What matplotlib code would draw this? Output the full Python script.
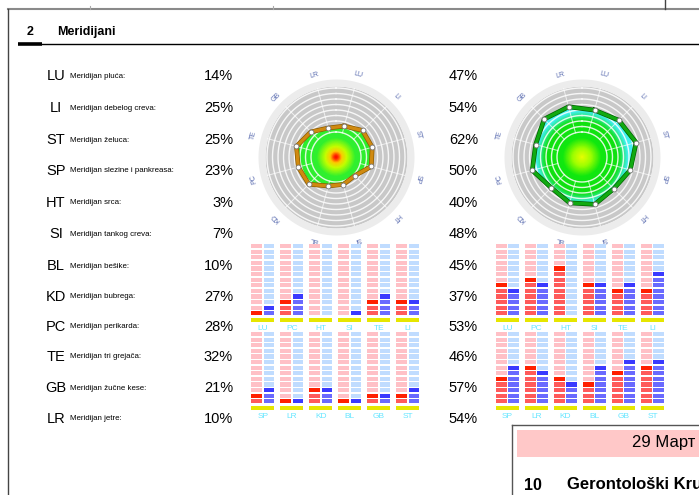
import numpy as np
import matplotlib
matplotlib.use('Agg')
import matplotlib.pyplot as plt
import matplotlib.patheffects as pe
from matplotlib.colors import LinearSegmentedColormap
from matplotlib.patches import Rectangle

plt.rcParams['font.family'] = ['Liberation Sans', 'DejaVu Sans']

# meridijani
codes = ['LU', 'LI', 'ST', 'SP', 'HT', 'SI', 'BL', 'KD', 'PC', 'TE', 'GB', 'LR']
names = ['Meridijan pluća:', 'Meridijan debelog creva:', 'Meridijan želuca:',
         'Meridijan slezine i pankreasa:', 'Meridijan srca:', 'Meridijan tankog creva:',
         'Meridijan bešike:', 'Meridijan bubrega:', 'Meridijan perikarda:',
         'Meridijan tri grejača:', 'Meridijan žučne kese:', 'Meridijan jetre:']
left_pct = [14, 25, 25, 23, 3, 7, 10, 27, 28, 32, 21, 10]
right_pct = [47, 54, 62, 50, 40, 48, 45, 37, 53, 46, 57, 54]

# segmentni stubici (broj upaljenih segmenata od 13)
upper_codes = ['LU', 'PC', 'HT', 'SI', 'TE', 'LI']
lower_codes = ['SP', 'LR', 'KD', 'BL', 'GB', 'ST']
left_up_red = [1, 3, 0, 0, 3, 3]
left_up_blue = [2, 4, 0, 1, 4, 3]
left_lo_red = [2, 1, 3, 1, 2, 2]
left_lo_blue = [3, 1, 3, 1, 2, 3]
right_up_red = [6, 7, 9, 6, 5, 5]
right_up_blue = [5, 6, 0, 6, 6, 8]
right_lo_red = [5, 7, 5, 4, 6, 7]
right_lo_blue = [7, 6, 4, 7, 8, 8]
n_seg = 13

W, H = 699, 495
fig = plt.figure(figsize=(W / 100, H / 100), dpi=100)


def box(l, t, w, h):
    return [l / W, 1 - (t + h) / H, w / W, h / H]


# pozadina, tekst i linije u pikselima
ov = fig.add_axes([0, 0, 1, 1])
ov.set_xlim(0, W)
ov.set_ylim(H, 0)
ov.axis('off')

ov.plot([8, W], [9, 9], color='#8a8a8a', lw=1.5)
ov.plot([8, 8], [9, H], color='#444444', lw=1)
ov.plot([665, 665], [0, 9], color='#444444', lw=1)
ov.plot([90, 90], [6, 9], color='#aaaaaa', lw=0.8)
ov.plot([273, 273], [6, 9], color='#aaaaaa', lw=0.8)
ov.plot([42, W], [44, 44], color='black', lw=1)
ov.plot([18, 42], [43.5, 43.5], color='black', lw=2.6, solid_capstyle='butt')
ov.text(30, 32, '2', ha='center', va='center', fontsize=9, fontweight='bold')
ov.text(57, 32, 'Meridijani', ha='left', va='center', fontsize=9, fontweight='bold')

rows_y = [76, 108, 140, 171, 203, 234, 266, 297, 327, 357, 388, 419]
for y, c, n, lp, rp in zip(rows_y, codes, names, left_pct, right_pct):
    ov.text(56, y, c, ha='center', va='center', fontsize=10.5)
    ov.text(70, y, n, ha='left', va='center', fontsize=5.7)
    ov.text(233, y, f'{lp}%', ha='right', va='center', fontsize=10.5)
    ov.text(478, y, f'{rp}%', ha='right', va='center', fontsize=10.5)

# donji desni okvir
ov.plot([512, 512], [425, H], color='#555555', lw=1)
ov.plot([512, W], [425, 425], color='#555555', lw=1)
ov.add_patch(Rectangle((517, 430), 200, 27, color='#ffc8c8', lw=0))
ov.text(632, 443, '29 Март 2019', ha='left', va='center', fontsize=12)
ov.text(524, 485, '10', ha='left', va='center', fontsize=11.5, fontweight='bold')
ov.text(567, 485, 'Gerontološki Krug', ha='left', va='center', fontsize=12, fontweight='bold')


def radar(rect, vals, cmap, line_c, dark_c):
    ax = fig.add_axes(rect, projection='polar')
    ax.set_theta_zero_location('N')
    ax.set_theta_direction(-1)
    ax.set_axis_off()
    full = np.linspace(0, 2 * np.pi, 361)
    ax.fill_between(full, 0, 142, color='#c8c8c8', lw=0)
    ax.fill_between(full, 142, 156, color='#ececec', lw=0)
    ang = np.deg2rad(15 + 30 * np.arange(len(vals)))
    r = np.array(vals) + 50
    th = np.append(ang, ang[0])
    rr = np.append(r, r[0])
    poly = ax.fill(th, rr, facecolor='none', edgecolor='none')[0]
    T, R = np.meshgrid(np.linspace(0, 2 * np.pi, 181), np.linspace(0, 160, 161))
    mesh = ax.pcolormesh(T, R, R, cmap=cmap, vmin=0, vmax=160, shading='gouraud')
    mesh.set_clip_path(poly)
    for rc in np.arange(50, 145, 11):
        ax.plot(full, np.full_like(full, rc), color='white', lw=1.0, alpha=0.85)
    for a in ang:
        ax.plot([a, a], [50, 142], color='white', lw=0.7, alpha=0.7)
    ax.plot(th, rr, color=line_c, lw=2.4,
            path_effects=[pe.Stroke(linewidth=3.4, foreground=dark_c), pe.Normal()])
    ax.plot(ang, r, 'o', ms=3.5, mfc='white', mec='#777777', mew=0.6)
    for a, c in zip(ang, codes):
        ax.text(a, 170, c, rotation=-np.rad2deg(a), ha='center', va='center',
                fontsize=5, color='#5a6cb0', rotation_mode='anchor')
    ax.set_ylim(0, 160)


cmap_left = LinearSegmentedColormap.from_list('l', [
    (0, '#ff0000'), (0.03, '#ff3000'), (0.08, '#ffd000'), (0.14, '#c8ff00'),
    (0.25, '#30f030'), (1, '#22e622')])
cmap_right = LinearSegmentedColormap.from_list('r', [
    (0, '#ecff00'), (0.12, '#a0ff00'), (0.25, '#10e810'), (0.46, '#10e010'),
    (0.58, '#40f0f0'), (1, '#60ffff')])

radar(box(256, 77, 160, 160), left_pct, cmap_left, '#d08a10', '#8b5a00')
radar(box(502, 77, 160, 160), right_pct, cmap_right, '#11aa11', '#006000')


def bars(rect, labels, red, blue):
    ax = fig.add_axes(rect)
    x = np.arange(len(labels))
    for k in range(n_seg):
        rc = ['#ff2000' if k == n - 1 else ('#ff5a5a' if k < n else '#ffc0c6') for n in red]
        bc = ['#3a3aff' if k == n - 1 else ('#6a6aff' if k < n else '#c0dcff') for n in blue]
        ax.bar(x - 0.21, 0.76, width=0.38, bottom=k, color=rc, lw=0)
        ax.bar(x + 0.21, 0.76, width=0.36, bottom=k, color=bc, lw=0)
    ax.bar(x, 0.7, width=0.8, bottom=-1.25, color='#e6e600', lw=0)
    ax.set_xlim(-0.5, len(labels) - 0.5)
    ax.set_ylim(-1.4, 12.85)
    ax.set_xticks(x, labels)
    ax.set_yticks([])
    ax.tick_params(length=0, pad=1, labelsize=6, labelcolor='#66e6ff')
    for s in ax.spines.values():
        s.set_visible(False)
    ax.patch.set_visible(False)


bars(box(248.25, 243.4, 174, 79.8), upper_codes, left_up_red, left_up_blue)
bars(box(248.25, 331.4, 174, 79.8), lower_codes, left_lo_red, left_lo_blue)
bars(box(493, 243.4, 174, 79.8), upper_codes, right_up_red, right_up_blue)
bars(box(493, 331.4, 174, 79.8), lower_codes, right_lo_red, right_lo_blue)

fig.savefig('out.png', dpi=100)
